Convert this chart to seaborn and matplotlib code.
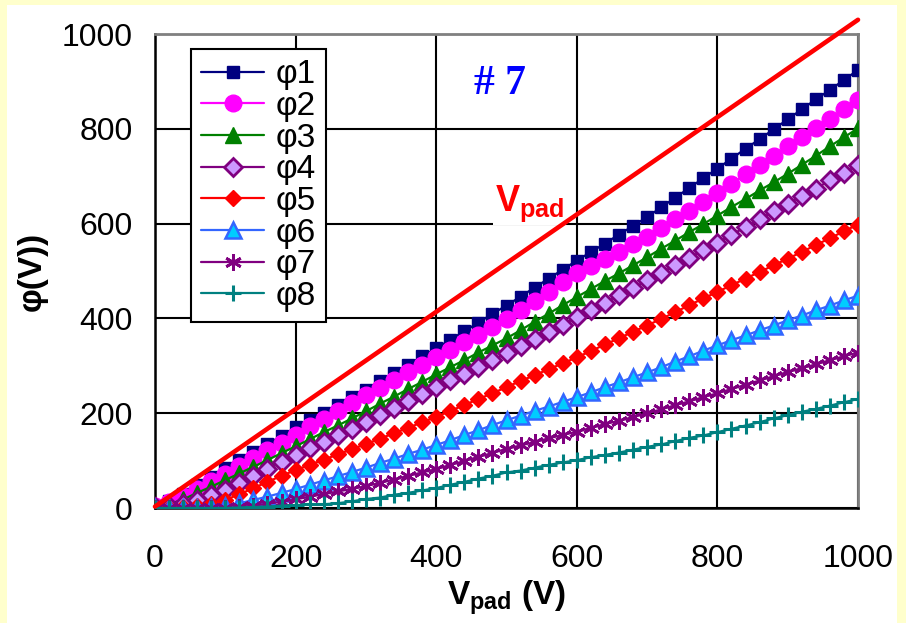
import numpy as np
import pandas as pd
import matplotlib
matplotlib.use("Agg")
import matplotlib.pyplot as plt
from matplotlib.patches import Rectangle
import seaborn as sns

sns.set_theme(style="white")
plt.rcParams['font.family'] = ['Liberation Sans', 'DejaVu Sans']
plt.rcParams['mathtext.fontset'] = 'custom'
plt.rcParams['mathtext.rm'] = 'Liberation Sans'
plt.rcParams['mathtext.bf'] = 'Liberation Sans:bold'
plt.rcParams['text.color'] = 'black'
plt.rcParams['axes.labelcolor'] = 'black'
plt.rcParams['xtick.color'] = 'black'
plt.rcParams['ytick.color'] = 'black'

# ---- data ----
v_pad = list(range(0, 1001, 20))

phi1 = [5, 14, 30, 48, 66, 84, 101, 118, 135, 152, 170, 185, 201, 217, 234, 250, 268, 285, 302, 320,
        337, 355, 373, 391, 410, 427, 446, 465, 484, 503, 522, 540, 558, 577, 595, 614, 634, 655, 675, 696,
        716, 737, 758, 778, 799, 820, 841, 862, 882, 903, 924]
phi2 = [5, 12, 25, 40, 56, 72, 89, 105, 122, 138, 155, 172, 188, 205, 221, 238, 254, 270, 286, 302,
        318, 334, 350, 366, 382, 398, 418, 437, 456, 476, 495, 510, 526, 541, 557, 572, 590, 609, 627, 646,
        664, 684, 704, 723, 743, 763, 782, 802, 821, 841, 860]
phi3 = [3, 8, 18, 32, 45, 59, 73, 87, 101, 116, 130, 145, 160, 174, 189, 204, 220, 235, 251, 266,
        282, 297, 312, 328, 343, 358, 375, 393, 410, 428, 445, 462, 479, 495, 512, 529, 547, 564, 582, 599,
        617, 635, 652, 670, 687, 705, 724, 743, 763, 782, 801]
phi4 = [2, 4, 9, 17, 27, 38, 53, 68, 83, 97, 112, 126, 140, 153, 167, 181, 196, 211, 225, 240,
        255, 269, 283, 298, 312, 326, 341, 356, 372, 387, 402, 418, 433, 449, 464, 480, 496, 512, 528, 544,
        560, 576, 593, 609, 626, 642, 658, 674, 691, 707, 723]
phi5 = [1, 1, 2, 4, 9, 17, 29, 42, 55, 68, 80, 91, 102, 113, 124, 135, 146, 158, 169, 181,
        192, 205, 217, 230, 242, 255, 268, 280, 293, 305, 318, 331, 345, 358, 372, 385, 399, 413, 428, 442,
        456, 470, 484, 498, 512, 526, 540, 555, 569, 584, 598]
phi6 = [0, 0, 0, 1, 3, 5, 10, 17, 24, 32, 40, 49, 58, 67, 76, 85, 95, 104, 114, 123,
        133, 143, 154, 164, 175, 185, 195, 205, 214, 224, 234, 244, 255, 265, 276, 286, 297, 309, 320, 332,
        343, 354, 364, 375, 385, 396, 406, 417, 427, 438, 448]
phi7 = [0, 0, 0, 0, 0, 1, 2, 5, 9, 13, 18, 24, 29, 35, 40, 46, 53, 60, 68, 75,
        82, 91, 99, 108, 116, 125, 132, 139, 147, 154, 161, 169, 177, 184, 192, 200, 208, 217, 225, 234,
        242, 251, 260, 269, 278, 287, 295, 303, 312, 320, 328]
phi8 = [0, 0, 0, 0, 0, 0, 1, 2, 3, 5, 6, 8, 8, 10, 14, 19, 22, 28, 32, 37,
        42, 49, 55, 62, 68, 75, 79, 85, 91, 96, 101, 107, 112, 117, 123, 129, 134, 141, 148, 153,
        160, 167, 174, 181, 189, 196, 203, 209, 216, 223, 230]

vpad_line_x = [0, 1000]
vpad_line_y = [3, 1030]

labels = ["φ1", "φ2", "φ3", "φ4", "φ5", "φ6", "φ7", "φ8"]
series = [phi1, phi2, phi3, phi4, phi5, phi6, phi7, phi8]

ast = (6, 2, 0)
styles = [
    dict(color="#000080", marker="s", ms=9, mfc="#000080", mec="#000080", mew=1),
    dict(color="#FF00FF", marker="o", ms=12, mfc="#FF00FF", mec="#FF00FF", mew=1),
    dict(color="#008000", marker="^", ms=11, mfc="#008000", mec="#008000", mew=1),
    dict(color="#800080", marker="D", ms=9.5, mfc="#CC99FF", mec="#800080", mew=2),
    dict(color="#FF0000", marker="D", ms=8.5, mfc="#FF0000", mec="#FF0000", mew=1),
    dict(color="#3366FF", marker="^", ms=11, mfc="#00CCFF", mec="#3366FF", mew=1.8),
    dict(color="#800080", marker=ast, ms=12, mfc="#800080", mec="#800080", mew=2),
    dict(color="#008080", marker="+", ms=12, mfc="#008080", mec="#008080", mew=2.2),
]

fig = plt.figure(figsize=(9.06, 6.23), dpi=100, facecolor="#FFFFCC")
fig.patches.append(Rectangle((7 / 906, 0), 890 / 906, 618 / 623, transform=fig.transFigure,
                             facecolor="white", edgecolor="none", zorder=-10))
ax = fig.add_axes([155 / 906, (623 - 508) / 623, 703 / 906, 474 / 623])
ax.set_zorder(1)
ax.set_facecolor("white")

for lab, vals, st in zip(labels, series, styles):
    sns.lineplot(x=v_pad, y=vals, ax=ax, label=lab, lw=1.6, color=st["color"], marker=st["marker"],
                 markersize=st["ms"], markerfacecolor=st["mfc"], markeredgecolor=st["mec"],
                 markeredgewidth=st["mew"], zorder=3)

ax.plot(vpad_line_x, vpad_line_y, color="#FF0000", lw=3.3, clip_on=False, zorder=4)

ax.set_xlim(0, 1000)
ax.set_ylim(0, 1000)
ax.set_xticks(range(0, 1001, 200))
ax.set_yticks(range(0, 1001, 200))
ax.grid(True, color="black", lw=1.5)
ax.set_axisbelow(True)
for s in ["left", "bottom"]:
    ax.spines[s].set_color("black")
    ax.spines[s].set_linewidth(1.8)
for s in ["top", "right"]:
    ax.spines[s].set_color("#808080")
    ax.spines[s].set_linewidth(2)
ax.tick_params(axis="x", length=0, pad=26, labelsize=23, colors="black")
ax.tick_params(axis="y", length=0, pad=16, labelsize=23, colors="black")

ax.set_xlabel(r"$\mathbf{V_{pad}}$ (V)", fontsize=24, fontweight="bold", labelpad=3, color="black")
ax.set_ylabel("φ(V))", fontsize=24, fontweight="bold", labelpad=10, color="black")

ax.text(491, 895, "# 7", fontsize=30, fontweight="bold", color="#0000FF",
        family="Liberation Serif", ha="center", va="center")
ax.text(533, 642, r"$\mathbf{V_{pad}}$", fontsize=26, color="#FF0000", ha="center", va="center",
        bbox=dict(facecolor="white", edgecolor="none", pad=1), zorder=2)

leg = ax.legend(loc="upper left", bbox_to_anchor=(0.051, 0.968), fontsize=24, frameon=True,
                fancybox=False, framealpha=1, edgecolor="black", handlelength=1.9,
                handletextpad=0.35, labelspacing=0.02, borderpad=0.3, borderaxespad=0)
leg.get_frame().set_linewidth(1.5)
leg.set_zorder(5)
for t in leg.get_texts():
    t.set_color("black")

fig.savefig("out.png", dpi=100, facecolor=fig.get_facecolor())
